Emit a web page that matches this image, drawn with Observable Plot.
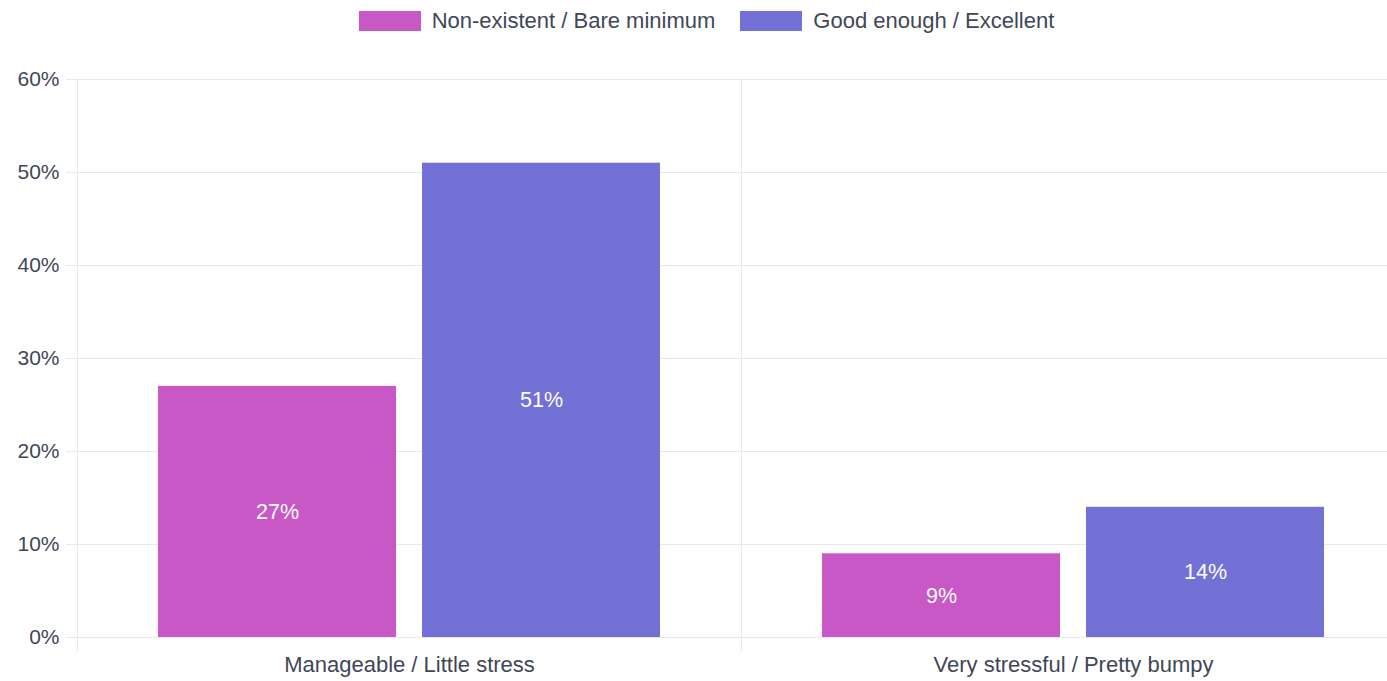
<!DOCTYPE html>
<html>
<head>
<meta charset="utf-8">
<script src="https://cdn.jsdelivr.net/npm/d3@7"></script>
<script src="https://cdn.jsdelivr.net/npm/@observablehq/plot@0.6"></script>
<style>
  html, body { margin: 0; padding: 0; background: #fff; overflow: hidden; }
  body { font-family: "Liberation Sans", Arial, Helvetica, sans-serif; width: 1387px; }
  #legend { height: 42px; display: flex; justify-content: center; align-items: center; gap: 25px; font-size: 22px; color: #3f4757; padding-left: 26px; box-sizing: border-box; }
  #legend .item { display: flex; align-items: center; gap: 11px; }
  #legend .sw { width: 62px; height: 20px; display: inline-block; }
  #chart svg { max-width: none !important; display: block; }
</style>
</head>
<body>
<div id="legend"></div>
<div id="chart"></div>
<script>
const categories = ["Manageable / Little stress", "Very stressful / Pretty bumpy"];
const series = ["Non-existent / Bare minimum", "Good enough / Excellent"];
const colors = ["#c758c6", "#7370d6"];
const nonExistentValues = [27, 9];
const goodEnoughValues = [51, 14];
const yTicks = [0, 10, 20, 30, 40, 50, 60];

const data = [];
categories.forEach((c, i) => {
  data.push({category: c, series: series[0], value: nonExistentValues[i]});
  data.push({category: c, series: series[1], value: goodEnoughValues[i]});
});

const legend = document.getElementById("legend");
series.forEach((s, i) => {
  const it = document.createElement("div");
  it.className = "item";
  const sw = document.createElement("span");
  sw.className = "sw";
  sw.style.background = colors[i];
  const t = document.createElement("span");
  t.textContent = s;
  it.appendChild(sw); it.appendChild(t);
  legend.appendChild(it);
});

const gridColor = "#e6e8ec";
const textColor = "#3f4757";

const chart = Plot.plot({
  width: 1405,
  height: 639,
  marginTop: 37,
  marginBottom: 44,
  marginLeft: 77,
  marginRight: 0,
  style: {fontFamily: '"Liberation Sans", Arial, Helvetica, sans-serif', fontSize: "21px", color: textColor, overflow: "visible", maxWidth: "none"},
  fx: {domain: categories, padding: 0, label: null},
  x: {domain: series, paddingInner: 0.098, paddingOuter: 0.302, axis: null},
  y: {domain: [0, 60], label: null},
  color: {domain: series, range: colors},
  marks: [
    Plot.gridY(yTicks, {stroke: gridColor, strokeOpacity: 1}),
    Plot.frame({anchor: "left", stroke: gridColor, strokeOpacity: 1, insetBottom: -13}),
    Plot.axisY(yTicks, {tickFormat: d => d + "%", tickSize: 11, tickPadding: 7, stroke: gridColor, strokeOpacity: 1, fill: textColor, fontSize: 21, label: null}),
    Plot.axisFx({anchor: "bottom", tickSize: 0, tickPadding: 19, fill: textColor, fontSize: 22, label: null}),
    Plot.barY(data, {fx: "category", x: "series", y: "value", fill: "series"}),
    Plot.text(data, {fx: "category", x: "series", y: d => d.value / 2, text: d => d.value + "%", fill: "white", fontSize: 21.5})
  ]
});
document.getElementById("chart").appendChild(chart);
</script>
</body>
</html>
